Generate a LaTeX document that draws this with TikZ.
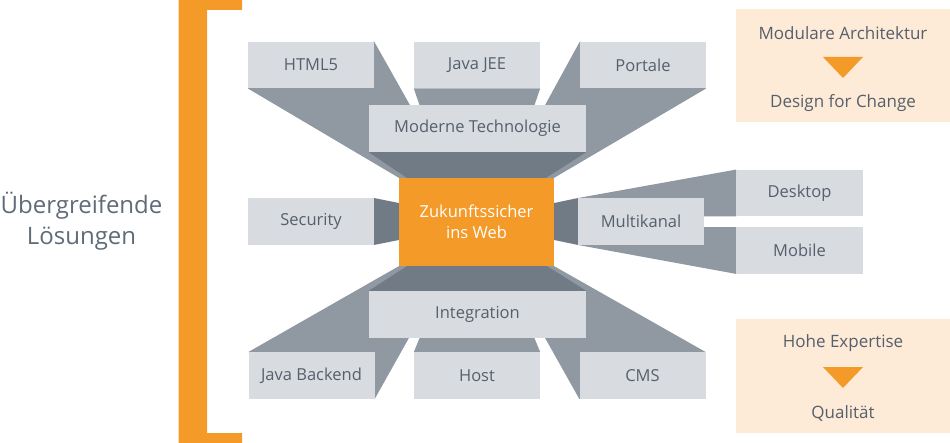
\documentclass[tikz,border=0pt]{standalone}
\usepackage{fontspec}
\setmainfont{Open Sans}
\usetikzlibrary{calc,backgrounds}
\definecolor{boxgray}{HTML}{D8DBE0}
\definecolor{shadelight}{HTML}{9098A2}
\definecolor{shadedark}{HTML}{717B85}
\definecolor{orng}{HTML}{F39A28}
\definecolor{peach}{HTML}{FDEAD7}
\definecolor{txt}{HTML}{56606C}
\definecolor{lefttxt}{HTML}{606B78}
\begin{document}
\begin{tikzpicture}[x=1pt,y=-1pt,
  gbox/.style={fill=boxgray, minimum width=126pt, minimum height=46.5pt, inner sep=0pt, text=txt, font=\fontsize{16.5}{20}\selectfont},
  widebox/.style={gbox, minimum width=217pt, minimum height=47pt},
  corebox/.style={fill=orng, minimum width=155pt, minimum height=88pt, inner sep=0pt, text=white, align=center, font=\fontsize{16.5}{21.5}\selectfont},
  peachbox/.style={fill=peach, minimum width=214pt, minimum height=113pt, inner sep=0pt},
  rtext/.style={text=txt, inner sep=0pt, font=\fontsize{17}{20}\selectfont},
  lefttext/.style={text=lefttxt, align=center, inner sep=0pt, font=\fontsize{24}{31}\selectfont}]
\useasboundingbox (0,0) rectangle (950,443);

% bracket
\fill[orng] (178.5,0) -- (242,0) -- (242,10) -- (207,10) -- (207,433) -- (242,433) -- (242,443) -- (178.5,443) -- cycle;
\node[lefttext] (ueber) at (81.5,221) {Übergreifende\\Lösungen};

% gray boxes
\node[gbox] (html) at (311,65) {HTML5};
\node[gbox] (jee) at (477,65) {Java JEE};
\node[gbox] (portale) at (643,65) {Portale};
\node[widebox] (moderne) at (477.5,128.5) {Moderne Technologie};
\node[corebox] (core) at (476.5,222) {Zukunftssicher\\ins Web};
\node[gbox] (security) at (311,221.5) {Security};
\node[gbox] (multi) at (641,221.5) {Multikanal};
\node[gbox] (desktop) at (799.5,193) {Desktop};
\node[gbox] (mobile) at (799.5,250.5) {Mobile};
\node[widebox] (integ) at (477.5,314.5) {Integration};
\node[gbox] (jb) at (311.5,375.5) {Java Backend};
\node[gbox] (host) at (477,375.5) {Host};
\node[gbox] (cms) at (642.5,375.5) {CMS};

\begin{scope}[on background layer]
% top
\fill[shadelight] (html.south west) -- (html.north east) -- ($(moderne.north west)+(41,0)$) -- ($(core.north west)+(40,0)$) -- (core.north west) -- cycle;
\fill[shadelight] (jee.south west) -- (jee.south east) -- ($(jee.south east)+(-6,17.5)$) -- ($(jee.south west)+(6,17.5)$) -- cycle;
\fill[shadelight] (portale.south east) -- (portale.north west) -- ($(moderne.north east)+(-41,0)$) -- ($(core.north east)+(-40,0)$) -- (core.north east) -- cycle;
\fill[shadedark] (moderne.south west) -- (moderne.south east) -- ($(core.north east)+(-8,0)$) -- ($(core.north west)+(8,0)$) -- cycle;
% sides
\fill[shadedark] (security.north east) -- ($(core.west)+(0,-19)$) -- ($(core.west)+(0,18)$) -- (security.south east) -- cycle;
\fill[shadedark] ($(core.east)+(0,-19)$) -- (multi.north west) -- (multi.south west) -- ($(core.east)+(0,18)$) -- cycle;
\fill[shadelight] (multi.north west) -- (desktop.north west) -- (desktop.south west) -- (multi.east |- desktop.south) -- (multi.center) -- cycle;
\fill[shadelight] (multi.east |- mobile.north) -- (mobile.north west) -- (mobile.south west) -- (multi.south west) -- (multi.center) -- cycle;
% bottom
\fill[shadelight] (jb.north west) -- (core.south west) -- ($(core.south west)+(40,0)$) -- ($(integ.south west)+(40,0)$) -- (jb.south east) -- cycle;
\fill[shadelight] (host.north west) -- ($(host.north west)+(6,-14.5)$) -- ($(host.north east)+(-6,-14.5)$) -- (host.north east) -- cycle;
\fill[shadelight] (cms.north east) -- (core.south east) -- ($(core.south east)+(-40,0)$) -- ($(integ.south east)+(-41,0)$) -- (cms.south west) -- cycle;
\fill[shadedark] ($(core.south west)+(8,0)$) -- ($(core.south east)+(-7,0)$) -- (integ.north east) -- (integ.north west) -- cycle;
\end{scope}

% right boxes
\node[peachbox] (arch) at (843,66) {};
\node[rtext] (modu) at (843,33) {Modulare Architektur};
\node[rtext] (design) at (843,103) {Design for Change};
\fill[orng] ($(arch.center)+(-20,-9)$) -- ($(arch.center)+(20,-9)$) -- ($(arch.center)+(0,12)$) -- cycle;

\node[peachbox] (expert) at (843,376) {};
\node[rtext] (hohe) at (843,343) {Hohe Expertise};
\node[rtext] (quali) at (843,413) {Qualität};
\fill[orng] ($(expert.center)+(-20,-9)$) -- ($(expert.center)+(20,-9)$) -- ($(expert.center)+(0,12)$) -- cycle;
\end{tikzpicture}
\end{document}
